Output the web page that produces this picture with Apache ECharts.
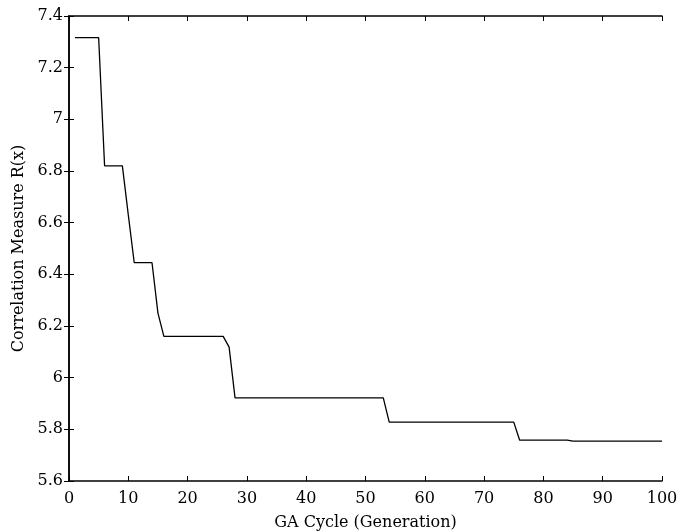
<!DOCTYPE html>
<html><head><meta charset="utf-8">
<script src="https://cdn.jsdelivr.net/npm/echarts@6/dist/echarts.min.js"></script>
<style>html,body{margin:0;padding:0;background:#fff}#c{width:678px;height:532px}</style>
</head><body><div id="c"></div>
<script>
const generations = [1,5,6,9,10,11,14,15,16,26,27,28,53,54,75,76,84,85,100];
const correlation = [7.316,7.316,6.82,6.82,6.63,6.445,6.445,6.25,6.16,6.16,6.118,5.922,5.922,5.828,5.828,5.758,5.758,5.754,5.754];
const xTitle = 'GA Cycle (Generation)';
const yTitle = 'Correlation Measure R(x)';

const font = 'DejaVu Serif';
const chart = echarts.init(document.getElementById('c'));
const axLine = {show:true, lineStyle:{color:'#000', width:1.5}};
const tickIn = {show:true, inside:true, length:5, lineStyle:{color:'#000', width:1}};
chart.setOption({
  animation:false,
  grid:{left:69, right:16, top:16, bottom:51, containLabel:false, outerBoundsMode:'none'},
  xAxis:[{
    type:'value', min:0, max:100, interval:10, position:'bottom',
    name:xTitle, nameLocation:'middle', nameGap:34,
    nameTextStyle:{fontFamily:font, fontSize:16, color:'#000'},
    axisLine:axLine, axisTick:tickIn, splitLine:{show:false},
    axisLabel:{fontFamily:font, fontSize:16, color:'#000', margin:10}
  },{
    type:'value', min:0, max:100, interval:10, position:'top',
    axisLine:axLine, axisTick:tickIn, splitLine:{show:false}, axisLabel:{show:false}
  }],
  yAxis:[{
    type:'value', min:5.6, max:7.4, interval:0.2, position:'left',
    name:yTitle, nameLocation:'middle', nameGap:36,
    nameTextStyle:{fontFamily:font, fontSize:16, color:'#000'},
    axisLine:axLine, axisTick:tickIn, splitLine:{show:false},
    axisLabel:{fontFamily:font, fontSize:16, color:'#000', margin:6,
      formatter:v=>String(Math.round(v*10)/10)}
  },{
    type:'value', min:5.6, max:7.4, interval:0.2, position:'right',
    axisLine:axLine, axisTick:tickIn, splitLine:{show:false}, axisLabel:{show:false}
  }],
  series:[{
    type:'line', xAxisIndex:0, yAxisIndex:0, showSymbol:false, symbol:'none',
    lineStyle:{color:'#000', width:1.3},
    data:generations.map((g,i)=>[g, correlation[i]])
  }]
});
</script></body></html>
